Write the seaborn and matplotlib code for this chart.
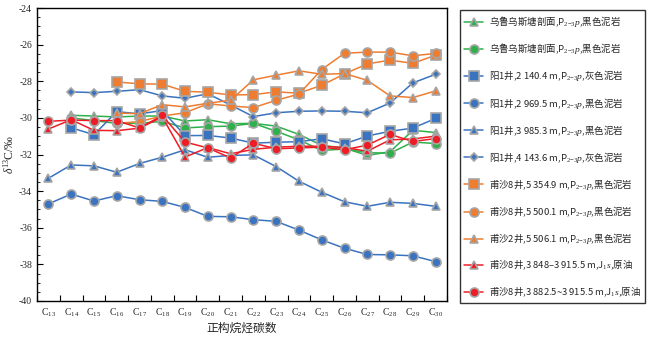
import numpy as np
import pandas as pd
import matplotlib
matplotlib.use("Agg")
import matplotlib.pyplot as plt
import seaborn as sns
from matplotlib.ticker import MultipleLocator

nan = np.nan

carbon = ["C13", "C14", "C15", "C16", "C17", "C18", "C19", "C20", "C21",
          "C22", "C23", "C24", "C25", "C26", "C27", "C28", "C29", "C30"]
carbon_labels = [r"C$_{%s}$" % c[1:] for c in carbon]

P23 = r"P$_{2\mathrm{-}3}$$p$"
names = [
    "乌鲁乌斯塘剖面," + P23 + ",黑色泥岩",
    "乌鲁乌斯塘剖面," + P23 + ",黑色泥岩 ",
    "阳1井,2 140.4 m," + P23 + ",灰色泥岩",
    "阳1井,2 969.5 m," + P23 + ",黑色泥岩",
    "阳1井,3 985.3 m," + P23 + ",黑色泥岩",
    "阳1井,4 143.6 m," + P23 + ",灰色泥岩",
    "甫沙8井,5 354.9 m," + P23 + ",黑色泥岩",
    "甫沙8井,5 500.1 m," + P23 + ",黑色泥岩",
    "甫沙2井,5 506.1 m," + P23 + ",黑色泥岩",
    "甫沙8井,3 848–3 915.5 m,J$_1$$s$,原油",
    "甫沙8井,3 882.5~3 915.5 m,J$_1$$s$,原油",
]

wlws_tri = [nan, -29.86, -29.90, -29.95, -29.90, -29.90, -30.17, -30.10, -30.32,
            -30.30, -30.45, -30.90, -31.50, -31.65, -32.05, -31.85, -30.68, -30.80]
wlws_cir = [nan, -30.00, -30.15, -30.30, -30.30, -30.19, -30.55, -30.48, -30.45,
            -30.30, -30.73, -31.20, -31.78, -31.70, -31.90, -31.93, -31.32, -31.40]
y1_2140 = [nan, -30.54, -30.92, -29.66, -29.78, -29.60, -30.97, -30.96, -31.10,
           -31.38, -31.33, -31.30, -31.14, -31.42, -30.99, -30.73, -30.56, -30.03]
y1_2969 = [-34.70, -34.16, -34.54, -34.25, -34.47, -34.56, -34.89, -35.38, -35.40,
           -35.56, -35.65, -36.13, -36.66, -37.12, -37.46, -37.48, -37.53, -37.85]
y1_3985 = [-33.30, -32.57, -32.62, -32.97, -32.49, -32.15, -31.74, -32.15, -32.05,
           -32.02, -32.66, -33.46, -34.06, -34.58, -34.83, -34.61, -34.67, -34.83]
y1_4143 = [nan, -28.58, -28.62, -28.55, -28.46, -28.80, -28.93, -28.68, -29.30,
           -29.93, -29.72, -29.64, -29.62, -29.64, -29.72, -29.19, -28.09, -27.62]
fs8_5354 = [nan, nan, nan, -28.04, -28.14, -28.16, -28.55, -28.60, -28.75,
            -28.73, -28.58, -28.65, -28.22, -27.60, -27.05, -26.85, -27.02, -26.58]
fs8_5500 = [nan, nan, nan, -30.30, -30.20, -29.90, -29.72, -29.23, -29.35,
            -29.44, -29.04, -28.70, -27.36, -26.47, -26.41, -26.41, -26.61, -26.48]
fs2_5506 = [nan, nan, nan, -29.74, -29.77, -29.28, -29.40, -29.20, -29.04,
            -27.92, -27.67, -27.43, -27.62, -27.58, -27.95, -28.80, -28.89, -28.53]
fs8_oil_a = [-30.61, -30.10, -30.68, -30.70, -30.56, -29.95, -32.14, -31.62, -31.96,
             -31.72, -31.60, -31.55, -31.55, -31.62, -31.82, -31.20, -31.15, -31.00]
fs8_oil_b = [-30.19, -30.12, -30.15, -30.15, -30.55, -29.87, -31.32, -31.64, -32.19,
             -31.38, -31.69, -31.64, -31.60, -31.74, -31.49, -30.90, -31.29, -31.13]

series_values = [wlws_tri, wlws_cir, y1_2140, y1_2969, y1_3985, y1_4143,
                 fs8_5354, fs8_5500, fs2_5506, fs8_oil_a, fs8_oil_b]

blue = "#3a73c0"
orange = "#ef7d31"
green = "#2eb04b"
red = "#ee1c25"
colors = [green, green, blue, blue, blue, blue, orange, orange, orange, red, red]
markers = ["^", "o", "s", "o", "^", "D", "s", "o", "^", "^", "o"]
msizes = [5.5, 6.5, 6.5, 6.5, 5.5, 4, 6.5, 6.5, 5.5, 5.5, 6.5]

rows = []
for name, vals in zip(names, series_values):
    for c, v in zip(carbon, vals):
        if not np.isnan(v):
            rows.append({"carbon": c, "d13C": v, "series": name})
df = pd.DataFrame(rows)
df["carbon"] = pd.Categorical(df["carbon"], categories=carbon, ordered=True)
df["series"] = pd.Categorical(df["series"], categories=names, ordered=True)

sns.set_theme(style="ticks")
plt.rcParams["font.family"] = ["Liberation Serif", "Noto Sans CJK SC", "DejaVu Sans"]
plt.rcParams["mathtext.fontset"] = "custom"
plt.rcParams["mathtext.rm"] = "Liberation Serif"
plt.rcParams["mathtext.it"] = "Liberation Serif:italic"
plt.rcParams["mathtext.bf"] = "Liberation Serif:bold"
plt.rcParams["axes.unicode_minus"] = False

fig = plt.figure(figsize=(6.63, 3.44), dpi=100)
ax = fig.add_axes([37 / 663, 1 - 301 / 344, (447 - 37) / 663, (301 - 8) / 344])

for i, name in enumerate(names):
    sub = df[df["series"] == name].copy()
    sub["x"] = sub["carbon"].cat.codes
    sns.lineplot(data=sub, x="x", y="d13C", ax=ax, color=colors[i],
                 marker=markers[i], markersize=msizes[i],
                 markeredgecolor="#a6a6a6", markeredgewidth=1.2,
                 linewidth=1.1, label=name, zorder=3 + i, sort=False)

ax.set_xlim(-0.5, len(carbon) - 0.5)
ax.set_ylim(-40, -24)
ax.yaxis.set_major_locator(MultipleLocator(2))
ax.yaxis.set_minor_locator(MultipleLocator(0.5))
ax.set_xticks(range(len(carbon)))
ax.set_xticklabels(carbon_labels, fontsize=7)
ax.set_xticks(np.arange(-0.5, len(carbon), 1), minor=True)
ax.tick_params(axis="x", which="major", length=0, pad=4)
ax.tick_params(axis="x", which="minor", direction="in", length=4, width=0.8, color="black")
ax.tick_params(axis="y", which="major", direction="in", length=4, width=0.8, labelsize=7, color="black")
ax.tick_params(axis="y", which="minor", direction="in", length=2.5, width=0.6, color="black")
for lab in ax.get_yticklabels():
    lab.set_fontfamily(["Liberation Serif"])
for sp in ax.spines.values():
    sp.set_visible(True)
    sp.set_color("black")
    sp.set_linewidth(1.0)

ax.set_xlabel("正构烷烃碳数", fontsize=8.5, labelpad=2,
              family=["Noto Sans CJK SC", "DejaVu Sans"])
ax.set_ylabel(r"$\delta^{13}$C/‰", fontsize=8.5, labelpad=2)

handles, labels = ax.get_legend_handles_labels()
leg = fig.legend(handles, labels, loc="upper left",
                 bbox_to_anchor=(460 / 663, 1 - 10 / 344),
                 prop={"family": ["Noto Sans CJK SC"], "size": 6.8},
                 frameon=True, fancybox=False, edgecolor="black",
                 labelspacing=1.28, handlelength=2.0, handletextpad=0.6,
                 borderpad=0.45, borderaxespad=0)
leg.get_frame().set_linewidth(1.0)
if ax.get_legend():
    ax.get_legend().remove()

fig.savefig("out.png", dpi=100)
